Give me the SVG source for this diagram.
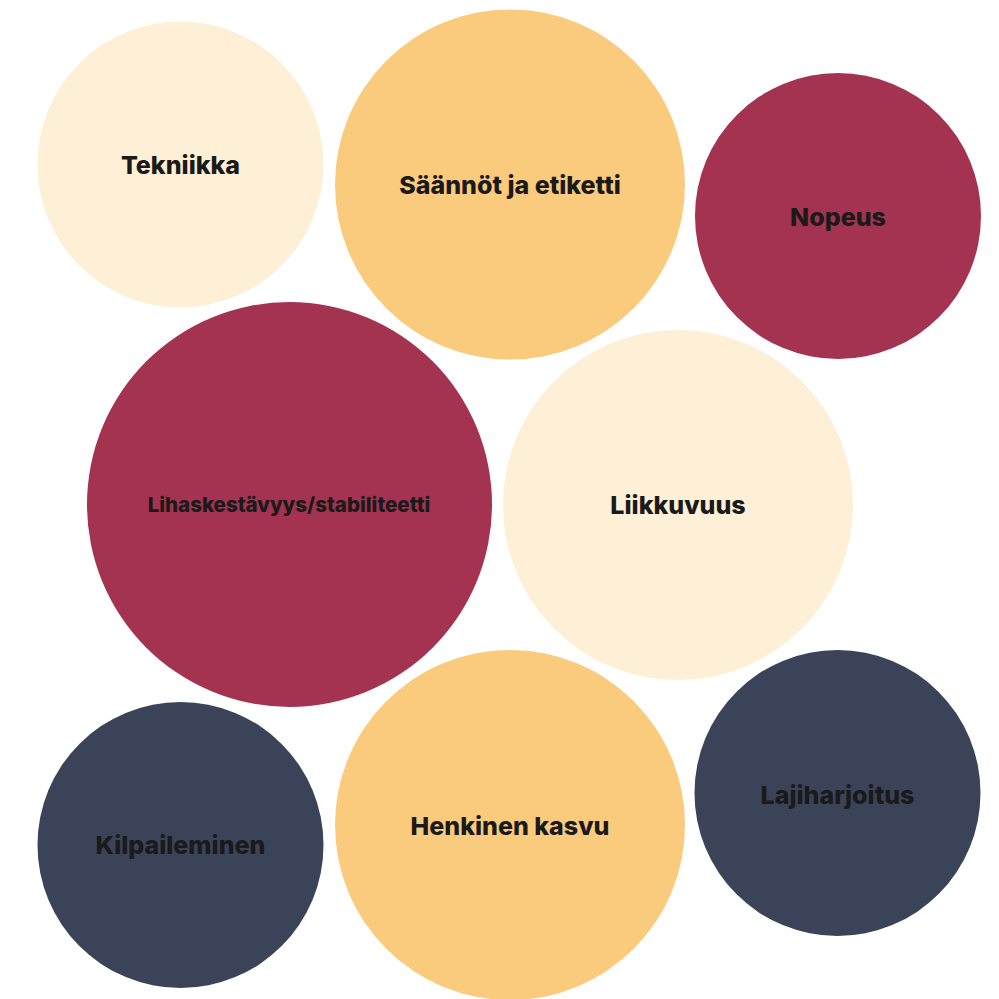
<svg xmlns="http://www.w3.org/2000/svg" width="999" height="999" viewBox="0 0 999 999">
<style>
.cream{fill:#FDF0D6}.orange{fill:#FBCB7D}.maroon{fill:#A33350}.navy{fill:#3B4358}
text{font-family:Inter,"Noto Sans","Liberation Sans",sans-serif;font-weight:800;fill:#1a1a1a;text-anchor:middle;dominant-baseline:central;font-size:25px}
.sm{font-size:20.5px}
</style>
<rect width="999" height="999" fill="#ffffff"/>
<g id="tekniikka"><circle class="cream" cx="180.5" cy="164.5" r="143"/><text x="180.5" y="164.5">Tekniikka</text></g>
<g id="saannot"><circle class="orange" cx="510" cy="184.5" r="175"/><text x="510" y="185">Säännöt ja etiketti</text></g>
<g id="nopeus"><circle class="maroon" cx="838" cy="216" r="143"/><text x="838" y="217">Nopeus</text></g>
<g id="lihaskestavyys"><circle class="maroon" cx="289.5" cy="504.5" r="202.5"/><text class="sm" x="289" y="504">Lihaskestävyys/stabiliteetti</text></g>
<g id="liikkuvuus"><circle class="cream" cx="678" cy="505" r="175"/><text x="678" y="505">Liikkuvuus</text></g>
<g id="kilpaileminen"><circle class="navy" cx="180.5" cy="845" r="143"/><text x="180.5" y="845">Kilpaileminen</text></g>
<g id="henkinen"><circle class="orange" cx="510" cy="825" r="175"/><text x="510" y="826">Henkinen kasvu</text></g>
<g id="lajiharjoitus"><circle class="navy" cx="837.5" cy="793" r="143"/><text x="837.5" y="795">Lajiharjoitus</text></g>
<g id="connectors"/>
</svg>
